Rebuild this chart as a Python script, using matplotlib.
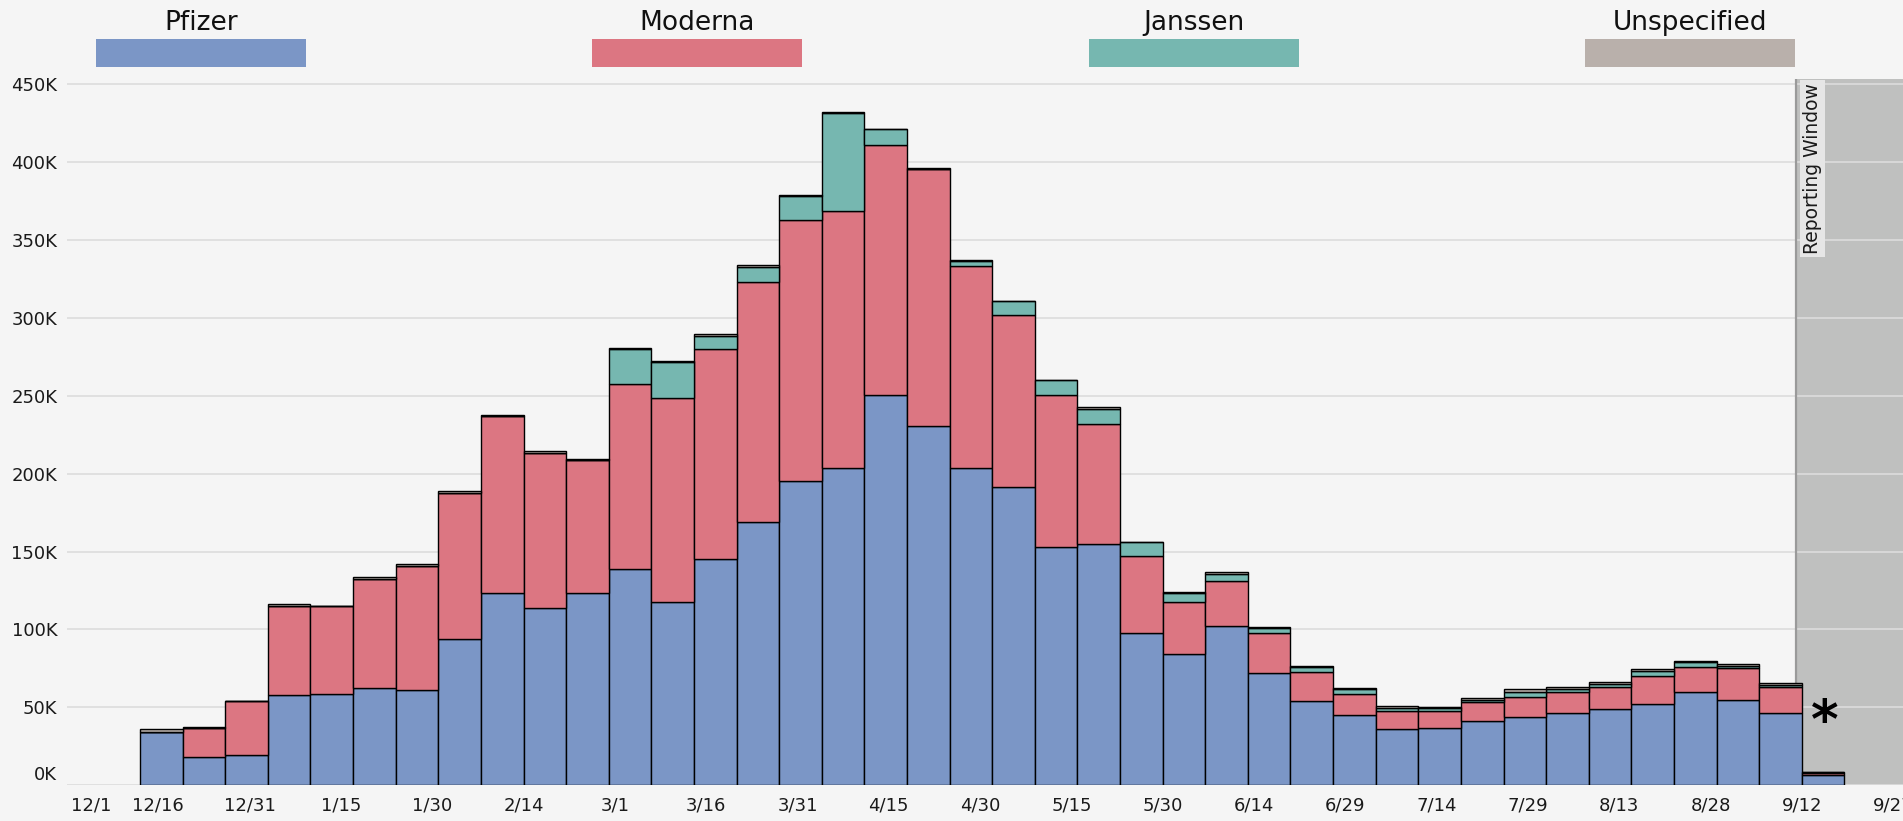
import matplotlib
matplotlib.use("Agg")
import matplotlib.pyplot as plt
import numpy as np
import pandas as pd
from matplotlib.patches import Rectangle
from matplotlib.transforms import ScaledTranslation

# ---------------- data (doses, thousands) ----------------
week_starts = pd.date_range("2020-12-13", periods=40, freq="7D")

pfizer = [34.3, 18.0, 19.2, 57.7, 58.3, 62.6, 60.9, 93.8, 123.2, 114.0,
          123.2, 138.8, 117.6, 145.2, 168.7, 195.0, 203.4, 250.4, 230.5, 203.6,
          191.5, 153.1, 154.8, 97.5, 84.0, 102.5, 71.8, 54.2, 44.9, 36.3,
          36.9, 41.2, 44.0, 46.1, 49.1, 52.3, 59.8, 54.9, 46.3, 6.4]
moderna = [0.0, 19.0, 34.8, 57.3, 56.5, 69.7, 79.6, 93.9, 113.8, 99.4,
           85.7, 118.7, 131.1, 134.9, 154.3, 168.0, 165.1, 160.5, 165.0, 129.6,
           110.0, 97.3, 77.0, 49.8, 33.4, 28.3, 25.7, 18.2, 13.8, 11.5,
           10.9, 12.0, 12.8, 13.5, 13.7, 18.0, 16.3, 20.5, 16.9, 1.6]
janssen = [0.0, 0.0, 0.0, 0.0, 0.0, 0.0, 0.0, 0.0, 0.0, 0.0,
           0.0, 22.6, 22.9, 8.4, 9.6, 15.3, 62.7, 10.0, 0.3, 3.0,
           9.2, 9.4, 9.8, 8.6, 5.8, 5.0, 3.4, 3.5, 3.0, 1.7,
           1.6, 1.6, 3.2, 2.3, 1.9, 3.0, 3.0, 1.2, 0.8, 0.2]
unspecified = [1.5, 0.6, 0.3, 1.3, 0.3, 1.1, 1.5, 1.3, 0.4, 1.3,
               0.4, 0.5, 0.4, 0.8, 1.0, 0.8, 1.1, 0.6, 0.6, 0.6,
               0.4, 0.5, 1.0, 0.5, 0.7, 0.9, 0.7, 0.8, 0.9, 1.1,
               1.1, 1.0, 1.5, 1.3, 1.5, 1.5, 0.8, 1.5, 1.6, 0.5]

series_names = ["Pfizer", "Moderna", "Janssen", "Unspecified"]
series_colors = ["#7b96c6", "#dc7682", "#76b7b0", "#b9b0ab"]

y_ticks = [0, 50000, 100000, 150000, 200000, 250000, 300000, 350000, 400000, 450000]
y_tick_labels = ["0K", "50K", "100K", "150K", "200K", "250K", "300K", "350K", "400K", "450K"]
x_tick_dates = pd.date_range("2020-12-01", "2021-09-27", freq="15D")
x_tick_labels = [f"{d.month}/{d.day}" for d in x_tick_dates]

origin = pd.Timestamp("2020-12-01")
window_start = pd.Timestamp("2021-09-11")
window_label = "Reporting Window"

# ---------------- figure ----------------
W, H = 1903, 821
BG = "#f5f5f5"
fig = plt.figure(figsize=(W / 100, H / 100), dpi=100, facecolor=BG)
ax_left, ax_bottom_px, ax_top_px = 67, 785.2, 79
ax = fig.add_axes([ax_left / W, 1 - ax_bottom_px / H, (W - ax_left) / W,
                   (ax_bottom_px - ax_top_px) / H])
ax.set_facecolor(BG)

x = np.array([(d - origin).days for d in week_starts], dtype=float)
stack = [np.array(s) * 1000 for s in (pfizer, moderna, janssen, unspecified)]
bottom = np.zeros(len(x))
for vals, col in zip(stack, series_colors):
    ax.bar(x, vals, width=7, bottom=bottom, align="edge", color=col,
           edgecolor="black", linewidth=1.0, zorder=3)
    bottom += vals

# reporting window shading
ws = (window_start - origin).days
ax.axvspan(ws, 400, color="#bfc0bf", zorder=0.5, lw=0)
ax.axvline(ws, color="#9a9a9a", lw=1.6, zorder=0.6)

ax.set_xlim(0, (W - ax_left) / 6.087)
ax.set_ylim(0, 453300)

# grid
ax.set_yticks(y_ticks)
ax.set_yticklabels(y_tick_labels)
ax.yaxis.grid(True, color="#dcdcdc", lw=1.2, zorder=1)
ax.set_axisbelow(True)
ax.set_xticks([(d - origin).days for d in x_tick_dates])
ax.set_xticklabels(x_tick_labels)
ax.tick_params(axis="both", length=0, labelsize=13, colors="#1a1a1a")
ax.tick_params(axis="y", pad=7)
ax.tick_params(axis="x", pad=8)
for s in ax.spines.values():
    s.set_visible(False)

# reporting window label
ax.text(ws + 2.8, 450700, window_label, rotation=90, ha="center", va="top",
        fontsize=13.5, color="#1a1a1a", zorder=5,
        bbox=dict(boxstyle="square,pad=0.15", fc="#e6e6e6", ec="none"))

# asterisk
ax.text(ws + 4.8, 40000, "*", fontsize=38, fontweight="bold", ha="center",
        va="center", color="black", zorder=5)

# legend
leg_lefts = [96, 592, 1089, 1585]
for name, col, lx in zip(series_names, series_colors, leg_lefts):
    fig.add_artist(Rectangle((lx / W, 1 - 67 / H), 210 / W, 28 / H,
                             transform=fig.transFigure, color=col, lw=0))
    fig.text((lx + 105) / W, 1 - 23 / H, name, ha="center", va="center",
             fontsize=19, color="#111111")

fig.canvas.draw()
# nudge edge labels like the reference
xl = ax.get_xticklabels()
xl[0].set_transform(xl[0].get_transform() + ScaledTranslation(0.24, 0, fig.dpi_scale_trans))
yl = ax.get_yticklabels()
yl[0].set_transform(yl[0].get_transform() + ScaledTranslation(0, 0.12, fig.dpi_scale_trans))

fig.savefig("out.png", dpi=100, facecolor=BG)
